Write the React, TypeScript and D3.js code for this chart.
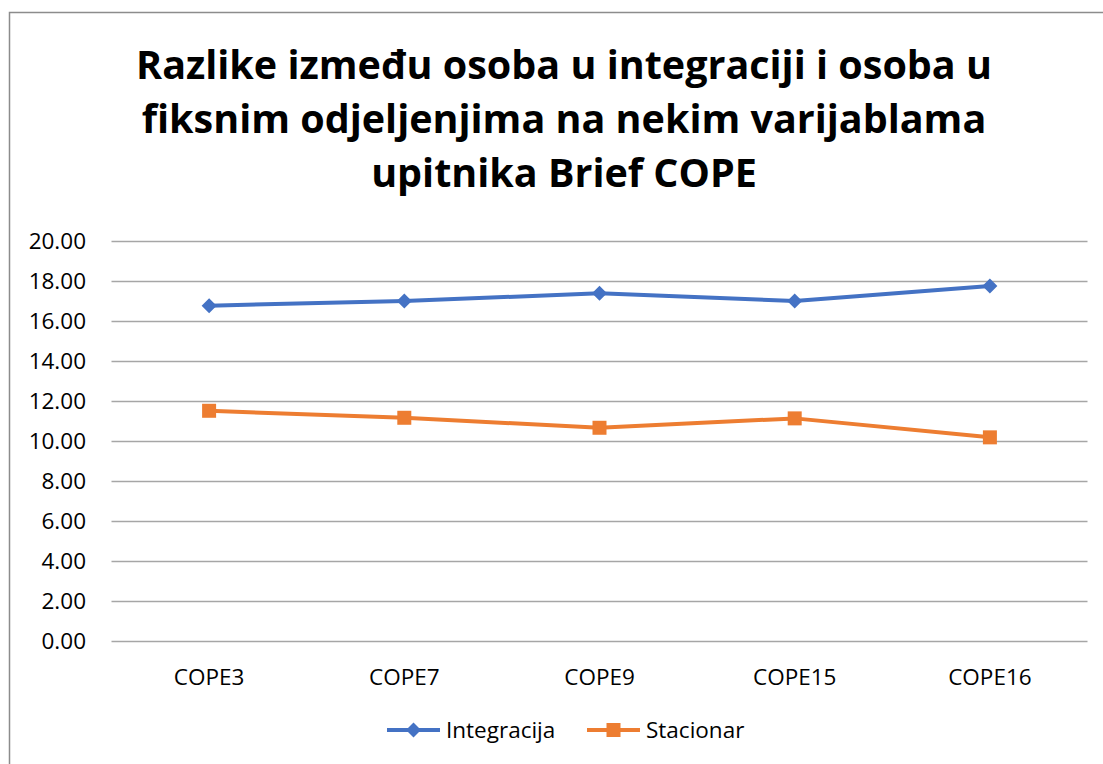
import React, { useEffect, useRef } from 'react';
import * as d3 from 'd3';

const categories = ['COPE3', 'COPE7', 'COPE9', 'COPE15', 'COPE16'];
const integracija = [16.76, 17.0, 17.38, 17.0, 17.75];
const stacionar = [11.5, 11.15, 10.65, 11.12, 10.17];
const yTicks = [0, 2, 4, 6, 8, 10, 12, 14, 16, 18, 20];
const titleLines = [
  'Razlike između osoba u integraciji i osoba u',
  'fiksnim odjeljenjima na nekim varijablama',
  'upitnika Brief COPE',
];

const W = 1103;
const H = 764;
const FONT = '"Open Sans", Lato, sans-serif';

// diamond marker, like Excel's (a square turned 45deg)
const diamond = (r: number) => `M0,${-r}L${r},0L0,${r}L${-r},0Z`;
const square = (r: number) => `M${-r},${-r}H${r}V${r}H${-r}Z`;

const App: React.FC = () => {
  const svgRef = useRef<SVGSVGElement>(null);

  useEffect(() => {
    if (!svgRef.current) return;
    const svg = d3.select(svgRef.current);
    svg.selectAll('*').remove();

    svg.append('rect').attr('width', W).attr('height', H).attr('fill', '#fff');

    // chart border
    svg.append('rect')
      .attr('x', 9.5).attr('y', 12.5)
      .attr('width', W).attr('height', H)
      .attr('fill', 'none').attr('stroke', '#8c8c8c').attr('stroke-width', 1.5);

    // title
    svg.append('g').selectAll('text')
      .data(titleLines)
      .join('text')
      .attr('x', 564)
      .attr('y', (_, i) => 79 + i * 54)
      .attr('text-anchor', 'middle')
      .attr('font-family', FONT)
      .attr('font-weight', 700)
      .attr('font-size', 39.5)
      .attr('fill', '#000')
      .text(d => d);

    const x = d3.scaleBand<string>().domain(categories).range([111.5, 1087.5]);
    const y = d3.scaleLinear().domain([0, 20]).range([640.5, 241]);

    // gridlines
    svg.append('g').selectAll('line')
      .data(yTicks)
      .join('line')
      .attr('x1', 111.5).attr('x2', 1087.5)
      .attr('y1', d => Math.round(y(d)) + 0.5)
      .attr('y2', d => Math.round(y(d)) + 0.5)
      .attr('stroke', '#a6a6a6').attr('stroke-width', 1.5);

    // y labels
    svg.append('g').selectAll('text')
      .data(yTicks)
      .join('text')
      .attr('x', 86)
      .attr('y', d => y(d))
      .attr('dy', '0.36em')
      .attr('text-anchor', 'end')
      .attr('font-family', FONT)
      .attr('font-size', 22.5)
      .attr('fill', '#000')
      .text(d => d3.format('.2f')(d));

    // x labels
    svg.append('g').selectAll('text')
      .data(categories)
      .join('text')
      .attr('x', d => (x(d) || 0) + x.bandwidth() / 2)
      .attr('y', 677)
      .attr('dy', '0.36em')
      .attr('text-anchor', 'middle')
      .attr('font-family', FONT)
      .attr('font-size', 22.5)
      .attr('fill', '#000')
      .text(d => d);

    const cx = (i: number) => (x(categories[i]) || 0) + x.bandwidth() / 2;
    const line = d3.line<number>().x((_, i) => cx(i)).y(d => y(d));

    const series = [
      { name: 'Integracija', values: integracija, color: '#4472C4', marker: diamond(7.5) },
      { name: 'Stacionar', values: stacionar, color: '#ED7D31', marker: square(7) },
    ];

    series.forEach(s => {
      svg.append('path')
        .datum(s.values)
        .attr('d', line)
        .attr('fill', 'none')
        .attr('stroke', s.color)
        .attr('stroke-width', 4)
        .attr('stroke-linejoin', 'round');
      svg.append('g').selectAll('path')
        .data(s.values)
        .join('path')
        .attr('transform', (d, i) => `translate(${cx(i)},${y(d)})`)
        .attr('d', s.marker)
        .attr('fill', s.color);
    });

    // legend
    const legendX = [387, 587];
    series.forEach((s, i) => {
      const g = svg.append('g').attr('transform', `translate(${legendX[i]},730)`);
      g.append('line').attr('x1', 0).attr('x2', 53).attr('y1', 0).attr('y2', 0)
        .attr('stroke', s.color).attr('stroke-width', 4);
      g.append('path')
        .attr('transform', 'translate(26.5,0)')
        .attr('d', s.marker)
        .attr('fill', s.color);
      g.append('text')
        .attr('x', 59).attr('y', 0).attr('dy', '0.36em')
        .attr('font-family', FONT).attr('font-size', 22.5).attr('fill', '#000')
        .text(s.name);
    });
  }, []);

  return (
    <div style={{ position: 'absolute', left: 0, top: 0 }}>
      <svg ref={svgRef} width={W} height={H} style={{ display: 'block' }} />
    </div>
  );
};

export default App;
